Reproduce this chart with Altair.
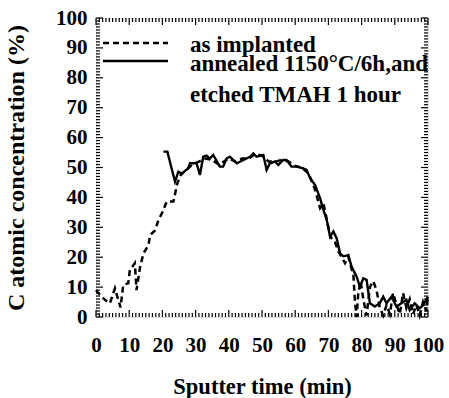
import altair as alt
import pandas as pd

# as implanted (dashed)
imp_x = [0, 1.5, 3, 4.2, 5.7, 7.4, 8.2, 9.7, 10.2, 11.7, 12.2, 13.3, 14.3, 15.8, 16.3, 17.8,
         18.8, 20, 21.3, 23.3, 24.5, 25.5, 27, 29, 31, 33, 35, 37, 38.5, 40, 42, 44, 46, 48,
         50, 52, 54, 56, 58, 60, 62, 64, 65.5, 66, 67.5, 68.5, 70, 71, 72, 73, 74, 75, 76,
         77, 77.5, 78, 78.5, 79, 79.7, 80.5, 81.5, 82.5, 83.5, 84.5, 85.5, 86.5, 87.5, 88.5,
         89.5, 90.5, 91.5, 92.5, 93.5, 94.5, 95.5, 96.5, 97.5, 98.5, 99.5, 100]
imp_y = [9, 7, 5.5, 4.6, 9.6, 3.2, 10.7, 11.3, 15.7, 18, 9, 16.8, 21.3, 24, 27.4, 29,
         32.4, 35, 38.6, 38.6, 44.7, 47.5, 49, 51, 52, 53, 52.5, 51, 52, 53, 52, 53, 53, 54.5,
         54, 52, 52, 52.5, 52, 50.5, 50, 48, 44, 42.5, 36.4, 38, 30, 26, 25, 22, 20, 18, 20.2,
         16, 14.6, 5, 0, 8, 12, 6, 0.5, 10, 12, 9, 3, 0.5, 4, 1,
         8, 4, 1, 8, 3, 6, 1, 4, 0.5, 5, 2, 7]

# annealed 1150C/6h and etched TMAH 1 hour (solid)
ann_x = [20.3, 21.5, 22.7, 23.8, 24.8, 25.8, 27.8, 28.3, 30.3, 31.3, 32.3, 33.3, 34.3, 35.3,
         37.3, 38.3, 39.3, 40.3, 42.4, 44.4, 46.4, 47.4, 48.4, 50.4, 51.4, 52.4, 53.9, 54.9,
         56.4, 57.4, 58.9, 60.4, 62.4, 63.4, 64.5, 66, 67.5, 68.5, 69.5, 70.5, 71.5, 72.5,
         73.5, 74.5, 76, 77, 78.5, 79.5, 80.5, 81.5, 82.5, 84, 85.5, 86.5, 87.5, 89, 90.5,
         92, 93.5, 94.5, 96, 97.5, 98.5, 100]
ann_y = [55.3, 55.3, 50, 45.3, 48.6, 48, 49.7, 51.4, 51.4, 47.5, 53.6, 54, 53, 54.2,
         50.3, 50.3, 53, 53.6, 51.4, 52.5, 53.6, 54.7, 53.6, 54.2, 49.2, 51.4, 52, 50.8,
         52.5, 52.5, 50.3, 50.3, 49.7, 49.2, 46.4, 44.1, 39.7, 35.8, 32.4, 26.9, 28.6, 26.3,
         21.3, 20.3, 20.7, 16.8, 13.5, 10.1, 12.9, 12.4, 4.6, 3.5, 4.6, 6.8, 4.6, 6.8, 3.5,
         4.6, 5.7, 2.3, 4.6, 2.9, 3.9, 6.8]

major_ticks = list(range(0, 101, 10))
minor_ticks = [v for v in range(0, 101) if v % 10 != 0]

W, H = 332, 299
FONT = "Liberation Serif"

df_imp = pd.DataFrame({"t": imp_x, "c": imp_y})
df_ann = pd.DataFrame({"t": ann_x, "c": ann_y})

# inward tick segments in data units (1 unit x = 3.32 px, 1 unit y = 2.99 px)
rows = []
for vals, px in ((minor_ticks, 4), (major_ticks, 7)):
    lx, ly = px / (W / 100), px / (H / 100)
    for v in vals:
        rows.append({"x": v, "x2": v, "y": 0, "y2": ly})
        rows.append({"x": v, "x2": v, "y": 100, "y2": 100 - ly})
        rows.append({"x": 0, "x2": lx, "y": v, "y2": v})
        rows.append({"x": 100, "x2": 100 - lx, "y": v, "y2": v})
df_ticks = pd.DataFrame(rows)

xs = alt.Scale(domain=[0, 100], nice=False)
ys = alt.Scale(domain=[0, 100], nice=False)

x_axis = alt.Axis(values=major_ticks, ticks=False, domain=False, grid=False,
                  labelFont=FONT, labelFontWeight="bold", labelFontSize=21,
                  labelColor="black", labelPadding=17, labelFlush=False, labelOverlap=False,
                  title="Sputter time (min)", titleFont=FONT, titleFontWeight="bold",
                  titleFontSize=22.5, titleColor="black", titlePadding=20)
y_axis = alt.Axis(values=major_ticks, ticks=False, domain=False, grid=False,
                  labelFont=FONT, labelFontWeight="bold", labelFontSize=21,
                  labelColor="black", labelPadding=9, labelFlush=False, labelOverlap=False,
                  title="C atomic concentration (%)", titleFont=FONT, titleFontWeight="bold",
                  titleFontSize=24, titleColor="black", titlePadding=27)

dashed = alt.Chart(df_imp).mark_line(color="black", strokeWidth=2.5, strokeDash=[6, 4]).encode(
    x=alt.X("t:Q", scale=xs, axis=x_axis),
    y=alt.Y("c:Q", scale=ys, axis=y_axis),
)
solid = alt.Chart(df_ann).mark_line(color="black", strokeWidth=2.4).encode(
    x=alt.X("t:Q", scale=xs, axis=x_axis),
    y=alt.Y("c:Q", scale=ys, axis=y_axis),
)
tick_marks = alt.Chart(df_ticks).mark_rule(color="black", strokeWidth=1.2).encode(
    x=alt.X("x:Q", scale=xs, axis=x_axis),
    x2="x2:Q",
    y=alt.Y("y:Q", scale=ys, axis=y_axis),
    y2="y2:Q",
)

one = pd.DataFrame({"k": [0]})
leg_dash = alt.Chart(one).mark_rule(color="black", strokeWidth=2.5, strokeDash=[6, 4]).encode(
    x=alt.value(7), x2=alt.value(72), y=alt.value(25))
leg_solid = alt.Chart(one).mark_rule(color="black", strokeWidth=2.4).encode(
    x=alt.value(7), x2=alt.value(72), y=alt.value(43))

legend_texts = ["as implanted", "annealed 1150\u00b0C/6h,and", "etched TMAH 1 hour"]
legend_y = [34, 53, 84]
text_layers = []
for t, yy in zip(legend_texts, legend_y):
    text_layers.append(
        alt.Chart(one).mark_text(
            text=t, font=FONT, fontWeight="bold", fontSize=23, align="left",
            baseline="alphabetic", color="black", clip=True
        ).encode(x=alt.value(94), y=alt.value(yy))
    )

chart = alt.layer(
    dashed, solid, tick_marks, leg_dash, leg_solid, *text_layers
).properties(
    width=W, height=H,
    autosize=alt.AutoSizeParams(type="none"),
    padding={"left": 96, "top": 18, "right": 21, "bottom": 81},
).configure_view(stroke="black", strokeWidth=3).configure(background="white")

chart.save("out.html", embed_options={"renderer": "svg", "actions": False})
